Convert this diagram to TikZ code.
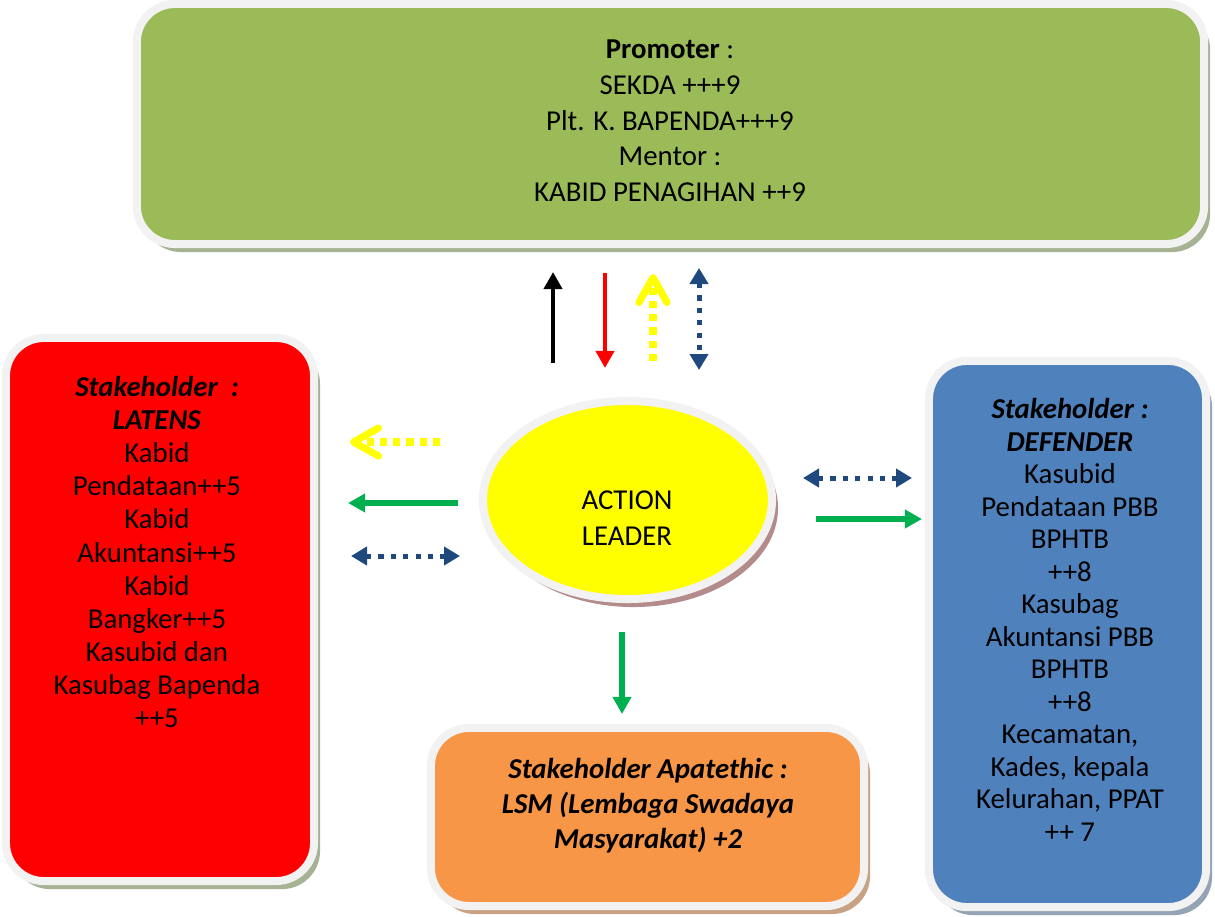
\documentclass[tikz,border=0pt]{standalone}
\usepackage{fontspec}
\setmainfont{Carlito}
\usepackage{tikz}
\usetikzlibrary{positioning,arrows.meta,shapes.geometric,shadows}
\definecolor{gbox}{HTML}{9BBB59}
\definecolor{rbox}{HTML}{FF0000}
\definecolor{bbox}{HTML}{4F81BD}
\definecolor{obox}{HTML}{F79646}
\definecolor{ylead}{HTML}{FFFF00}
\definecolor{dblue}{HTML}{1F497D}
\definecolor{garrow}{HTML}{00B050}
\definecolor{rim}{HTML}{F2F2F2}
\definecolor{shgreen}{HTML}{A5B293}
\definecolor{shblue}{HTML}{95A3B5}
\definecolor{shorange}{HTML}{C8A285}
\definecolor{shlead}{HTML}{B48B8B}
\tikzstyle{box} = [rectangle, rounded corners=0.95cm, draw=rim, line width=0.2cm, inner sep=0pt]
\tikzstyle{txt} = [align=center, inner sep=0pt]
\tikzstyle{arrow} = [line width=0.11cm, -{Triangle[width=0.45cm, length=0.43cm]}]
\tikzstyle{dotarrow} = [dblue, line width=0.125cm, dash pattern=on 0.13cm off 0.18cm, {Triangle[width=0.45cm, length=0.4cm]}-{Triangle[width=0.45cm, length=0.4cm]}]
\tikzstyle{chevron} = [ylead, line width=0.18cm, dash pattern=on 0.18cm off 0.15cm, -{Straight Barb[length=0.62cm, width=0.7cm, round]}]

\begin{document}
\begin{tikzpicture}[x=0.025cm, y=-0.025cm]
\tikzset{%
	shade/.style = { drop shadow={shadow xshift=0.15cm, shadow yshift=-0.2cm, fill=#1, opacity=1} }
}
\useasboundingbox (0,0) rectangle (1215,916);

% boxes
\node(pro) [box, fill=gbox, shade=shgreen, minimum width=26.675cm, minimum height=6cm] at (670.5,124) {};
\node(lat) [box, fill=rbox, shade=shgreen, minimum width=7.7cm, minimum height=13.575cm] at (160,609.5) {};
\node(def) [box, fill=bbox, shade=shblue, minimum width=6.925cm, minimum height=13.65cm] at (1067.5,634) {};
\node(apa) [box, fill=obox, shade=shorange, minimum width=10.825cm, minimum height=4.45cm] at (647.5,817) {};
\node(lead) [ellipse, draw=rim, line width=0.2cm, fill=ylead, shade=shlead, inner sep=0pt, minimum width=7.225cm, minimum height=4.95cm] at (627.5,500) {};

% texts
\node(protxt) [txt, font=\fontsize{20.5}{25.4}\selectfont] at (670,121) {\textbf{Promoter} :\\SEKDA +++9\\Plt. K. BAPENDA+++9\\Mentor :\\KABID PENAGIHAN ++9};
\node(lattxt) [txt, font=\fontsize{20.5}{23.5}\selectfont] at (157,552) {\textbf{\textit{Stakeholder~ :}}\\\textbf{\textit{LATENS}}\\Kabid\\Pendataan++5\\Kabid\\Akuntansi++5\\Kabid\\Bangker++5\\Kasubid dan\\Kasubag Bapenda\\++5};
\node(deftxt) [txt, font=\fontsize{20.5}{23.1}\selectfont] at (1070,620) {\textbf{\textit{Stakeholder :}}\\\textbf{\textit{DEFENDER}}\\Kasubid\\Pendataan PBB\\BPHTB\\++8\\Kasubag\\Akuntansi PBB\\BPHTB\\++8\\Kecamatan,\\Kades, kepala\\Kelurahan, PPAT\\++ 7};
\node(apatxt) [txt, font=\fontsize{20.5}{24.9}\selectfont\bfseries\itshape] at (648,806) {Stakeholder Apatethic :\\LSM (Lembaga Swadaya\\Masyarakat) +2};
\node(leadtxt) [txt, font=\fontsize{20.5}{25.6}\selectfont] at (627,518) {ACTION\\LEADER};

% arrow ends
\coordinate (u1) at (553,363); \coordinate (u2) at (553,272);
\coordinate (r1) at (605,273); \coordinate (r2) at (605,368);
\coordinate (y1) at (653,361); \coordinate (y2) at (653,274);
\coordinate (b1) at (699,268); \coordinate (b2) at (699,370);
\coordinate (ly1) at (440,442); \coordinate (ly2) at (350,442);
\coordinate (lg1) at (458,503); \coordinate (lg2) at (348,503);
\coordinate (lb1) at (351,556); \coordinate (lb2) at (460,556);
\coordinate (rb1) at (803,478); \coordinate (rb2) at (912,478);
\coordinate (rg1) at (816,519); \coordinate (rg2) at (922,519);
\coordinate (dg1) at (622,632); \coordinate (dg2) at (622,714);

\draw [arrow, black] (u1) -- (u2);
\draw [arrow, rbox] (r1) -- (r2);
\draw [chevron] (y1) -- (y2);
\draw [dotarrow] (b1) -- (b2);
\draw [chevron] (ly1) -- (ly2);
\draw [arrow, garrow, line width=0.15cm] (lg1) -- (lg2);
\draw [dotarrow] (lb1) -- (lb2);
\draw [dotarrow] (rb1) -- (rb2);
\draw [arrow, garrow, line width=0.13cm] (rg1) -- (rg2);
\draw [arrow, garrow, line width=0.15cm] (dg1) -- (dg2);
\end{tikzpicture}
\end{document}
